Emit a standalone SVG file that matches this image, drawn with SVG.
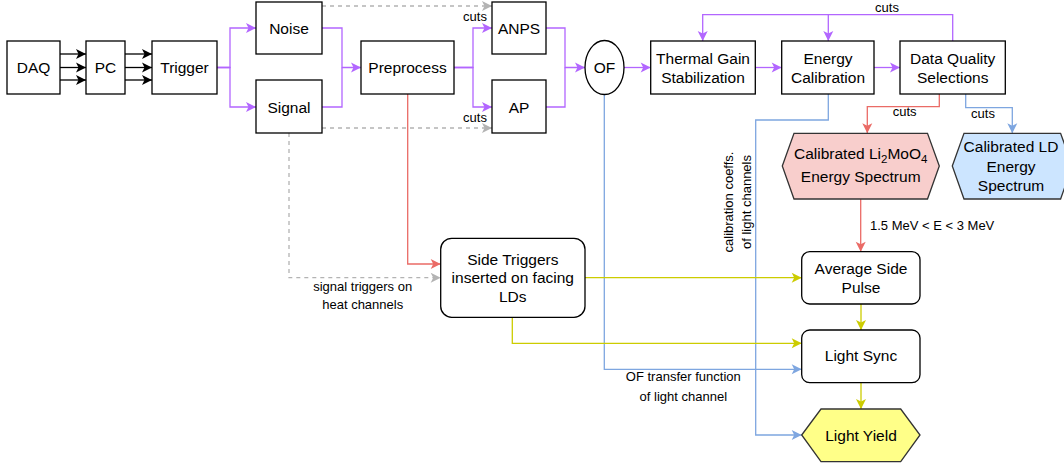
<svg xmlns="http://www.w3.org/2000/svg" width="1064" height="468" viewBox="0 0 1064 468">
<defs>
<style>
text{font-family:"Liberation Sans",Arial,sans-serif;fill:#000;text-anchor:middle}
.n{font-size:15.5px}
.l{font-size:13px}
.box{fill:#fff;stroke:#000;stroke-width:1.3}
.rbox{fill:#fff;stroke:#000;stroke-width:1.3}
.c{fill:none;stroke-width:1.3}
.k{stroke:#000}
.p{stroke:#b266ff}
.g{stroke:#b3b3b3;stroke-dasharray:4 4}
.r{stroke:#ea6b66}
.b{stroke:#7ea6e0}
.y{stroke:#cccc00}
</style>
<marker id="mk" markerUnits="userSpaceOnUse" markerWidth="11" markerHeight="10" refX="10" refY="5" orient="auto" overflow="visible"><path d="M0,0 L10,5 L0,10 L2.5,5 Z" fill="#000"/></marker>
<marker id="mp" markerUnits="userSpaceOnUse" markerWidth="11" markerHeight="10" refX="10" refY="5" orient="auto" overflow="visible"><path d="M0,0 L10,5 L0,10 L2.5,5 Z" fill="#b266ff"/></marker>
<marker id="mg" markerUnits="userSpaceOnUse" markerWidth="11" markerHeight="10" refX="10" refY="5" orient="auto" overflow="visible"><path d="M0,0 L10,5 L0,10 L2.5,5 Z" fill="#b3b3b3"/></marker>
<marker id="mr" markerUnits="userSpaceOnUse" markerWidth="11" markerHeight="10" refX="10" refY="5" orient="auto" overflow="visible"><path d="M0,0 L10,5 L0,10 L2.5,5 Z" fill="#ea6b66"/></marker>
<marker id="mb" markerUnits="userSpaceOnUse" markerWidth="11" markerHeight="10" refX="10" refY="5" orient="auto" overflow="visible"><path d="M0,0 L10,5 L0,10 L2.5,5 Z" fill="#7ea6e0"/></marker>
<marker id="my" markerUnits="userSpaceOnUse" markerWidth="11" markerHeight="10" refX="10" refY="5" orient="auto" overflow="visible"><path d="M0,0 L10,5 L0,10 L2.5,5 Z" fill="#cccc00"/></marker>
</defs>
<rect width="1064" height="468" fill="#fff"/>

<g id="connectors">
<path class="c k" d="M60,54 H86" marker-end="url(#mk)"/>
<path class="c k" d="M60,67.5 H86" marker-end="url(#mk)"/>
<path class="c k" d="M60,80 H86" marker-end="url(#mk)"/>
<path class="c k" d="M125,54 H152" marker-end="url(#mk)"/>
<path class="c k" d="M125,67.5 H152" marker-end="url(#mk)"/>
<path class="c k" d="M125,80 H152" marker-end="url(#mk)"/>

<path class="c p" d="M217,67.5 H230 V28 H256" marker-end="url(#mp)"/>
<path class="c p" d="M217,67.5 H230 V107 H256" marker-end="url(#mp)"/>
<path class="c p" d="M322,28 H342 V67.5 H361" marker-end="url(#mp)"/>
<path class="c p" d="M322,107 H342 V67.5"/>
<path class="c p" d="M454,67.5 H473 V28 H492" marker-end="url(#mp)"/>
<path class="c p" d="M454,67.5 H473 V107 H492" marker-end="url(#mp)"/>
<path class="c p" d="M546,28 H565 V67.5 H585" marker-end="url(#mp)"/>
<path class="c p" d="M546,107 H565 V67.5"/>
<path class="c p" d="M624,67.5 H650.7" marker-end="url(#mp)"/>
<path class="c p" d="M755.3,67.5 H781.7" marker-end="url(#mp)"/>
<path class="c p" d="M874,67.5 H900" marker-end="url(#mp)"/>
<path class="c p" d="M952.7,41 V14.7 H702.7 V41" marker-end="url(#mp)"/>
<path class="c p" d="M828.3,14.7 V41" marker-end="url(#mp)"/>

<path class="c g" d="M322,6 H492" marker-end="url(#mg)"/>
<path class="c g" d="M322,128 H492" marker-end="url(#mg)"/>
<path class="c g" d="M289,133 V277.7 H440.7" marker-end="url(#mg)"/>

<path class="c r" d="M407.7,94 V264 H440.7" marker-end="url(#mr)"/>
<path class="c r" d="M939.3,94 V106.7 H867.3 V133.3" marker-end="url(#mr)"/>
<path class="c r" d="M860.7,199 V251.7" marker-end="url(#mr)"/>

<path class="c b" d="M828.3,94 V120 H755.7 V435 H801.7" marker-end="url(#mb)"/>
<path class="c b" d="M965.7,94 V107.7 H1012.3 V133.3" marker-end="url(#mb)"/>
<path class="c b" d="M604.3,94.7 V369.3 H801.7" marker-end="url(#mb)"/>

<path class="c y" d="M585,277.7 H801.7" marker-end="url(#my)"/>
<path class="c y" d="M512.3,317.3 V343.3 H801.7" marker-end="url(#my)"/>
<path class="c y" d="M861,304 V330" marker-end="url(#my)"/>
<path class="c y" d="M861,382.7 V409" marker-end="url(#my)"/>

<text class="l" x="475" y="20.6">cuts</text>
<text class="l" x="475" y="121.6">cuts</text>
<text class="l" x="887" y="12.3">cuts</text>
<text class="l" x="904.7" y="116.3">cuts</text>
<text class="l" x="983" y="117.6">cuts</text>
<text class="l" x="870" y="229.6" style="text-anchor:start">1.5 MeV &lt; E &lt; 3 MeV</text>
<text class="l" x="362.7" y="290.6">signal triggers on</text>
<text class="l" x="362.7" y="309.3">heat channels</text>
<text class="l" x="683.3" y="381.3">OF transfer function</text>
<text class="l" x="683.3" y="401.3">of light channel</text>
<g transform="translate(737,202) rotate(-90)">
<text class="l" x="0" y="-4.1">calibration coeffs.</text>
<text class="l" x="0" y="14.3">of light channels</text>
</g>
</g>

<g id="daq"><rect class="box" x="7" y="41" width="53" height="53"/><text class="n" x="33.5" y="73">DAQ</text></g>
<g id="pc"><rect class="box" x="86" y="41" width="39" height="53"/><text class="n" x="105.5" y="73">PC</text></g>
<g id="trigger"><rect class="box" x="152" y="41" width="65" height="53"/><text class="n" x="184.5" y="73">Trigger</text></g>
<g id="noise"><rect class="box" x="256" y="2" width="66" height="52"/><text class="n" x="289" y="33.5">Noise</text></g>
<g id="signal"><rect class="box" x="256" y="80" width="66" height="53"/><text class="n" x="289" y="112.5">Signal</text></g>
<g id="preprocess"><rect class="box" x="361" y="41" width="93" height="53"/><text class="n" x="407.5" y="73">Preprocess</text></g>
<g id="anps"><rect class="box" x="492" y="2" width="54" height="52"/><text class="n" x="519" y="33.5">ANPS</text></g>
<g id="ap"><rect class="box" x="492" y="80" width="54" height="53"/><text class="n" x="519" y="112.5">AP</text></g>
<g id="of"><ellipse class="box" cx="604.5" cy="67.5" rx="19.5" ry="27"/><text class="n" x="604.5" y="73">OF</text></g>
<g id="thermal"><rect class="box" x="650.7" y="41" width="104.6" height="53"/><text class="n" x="703" y="63.8">Thermal Gain</text><text class="n" x="703" y="83.2">Stabilization</text></g>
<g id="energy"><rect class="box" x="781.7" y="41" width="92.3" height="53"/><text class="n" x="828" y="63.8">Energy</text><text class="n" x="828" y="83.2">Calibration</text></g>
<g id="dq"><rect class="box" x="900" y="41" width="105.3" height="53"/><text class="n" x="952.7" y="63.8">Data Quality</text><text class="n" x="952.7" y="83.2">Selections</text></g>
<g id="lmo"><path d="M782.3,166 L794,133.3 H927.5 L939.3,166 L927.5,199 H794 Z" fill="#f8cecc" stroke="#333" stroke-width="1.3"/><text class="n" x="860.7" y="158.5">Calibrated Li<tspan font-size="11.5px" dy="4">2</tspan><tspan dy="-4">MoO</tspan><tspan font-size="11.5px" dy="4">4</tspan></text><text class="n" x="860.7" y="182.2">Energy Spectrum</text></g>
<g id="ld"><path d="M952.3,166 L964,133.3 H1060.6 L1072.3,166 L1060.6,199 H964 Z" fill="#cce5ff" stroke="#333" stroke-width="1.3"/><text class="n" x="1011" y="152.2">Calibrated LD</text><text class="n" x="1011" y="172">Energy</text><text class="n" x="1011" y="191">Spectrum</text></g>
<g id="side"><rect class="rbox" x="440.7" y="238.3" width="144.3" height="79" rx="11" ry="11"/><text class="n" x="512.8" y="264.5">Side Triggers</text><text class="n" x="512.8" y="283.2">inserted on facing</text><text class="n" x="512.8" y="302.2">LDs</text></g>
<g id="asp"><rect class="rbox" x="801.7" y="251.7" width="118.3" height="52.3" rx="8" ry="8"/><text class="n" x="861" y="273.8">Average Side</text><text class="n" x="861" y="293.2">Pulse</text></g>
<g id="sync"><rect class="rbox" x="801.7" y="330" width="118.3" height="52.7" rx="8" ry="8"/><text class="n" x="861" y="361.2">Light Sync</text></g>
<g id="ly"><path d="M801.7,435 L821,409 H900.7 L920,435 L900.7,461.7 H821 Z" fill="#ffff88" stroke="#333" stroke-width="1.3"/><text class="n" x="861" y="440.5">Light Yield</text></g>
</svg>
